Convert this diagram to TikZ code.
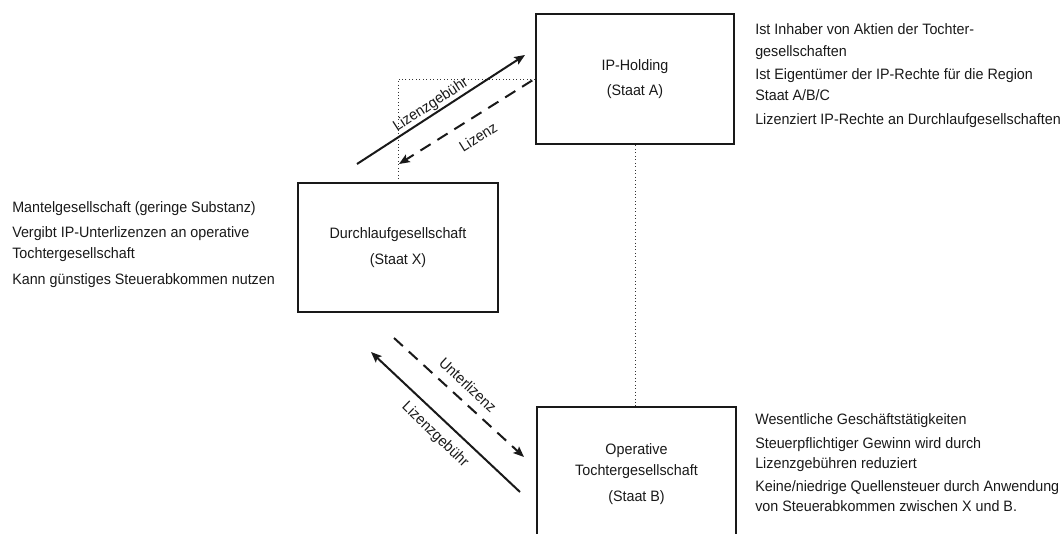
\documentclass[tikz,border=0pt]{standalone}
\usepackage{fontspec}
\setmainfont{Liberation Sans}[FakeStretch=0.95]
\usetikzlibrary{arrows.meta}
\newcommand\mainsize{\fontsize{11.3pt}{15.75pt}\selectfont}
\begin{document}
\begin{tikzpicture}[x=0.75pt,y=-0.75pt,
  box/.style={draw=black!90, line width=2.2pt, align=center, inner sep=0pt, font=\mainsize, text=black!90},
  side/.style={anchor=base west, inner sep=0pt, font=\mainsize, text=black!90},
  lbl/.style={inner sep=0pt, font=\mainsize, text=black!90},
  flow/.style={line width=1.5pt, draw=black!90, -{Stealth[length=8pt,width=6.5pt,inset=1.5pt]}},
  lic/.style={flow, dash pattern=on 9pt off 6pt},
  link/.style={draw=black!80, dotted, line width=0.6pt}]
\useasboundingbox (0,0) rectangle (1064,534);
\clip (0,0) rectangle (1064,534);

% boxes
\node[box, minimum width=148.5pt, minimum height=97.5pt] (A) at (635,79)
  {IP-Holding\\[3.5pt](Staat A)};
\node[box, minimum width=150pt, minimum height=96.75pt] (X) at (398,247.5)
  {Durchlaufgesellschaft\\[3.5pt](Staat X)};
\node[box, minimum width=149.25pt, minimum height=100.5pt] (B) at (636.5,474)
  {Operative\\Tochtergesellschaft\\[3.5pt](Staat B)};

% dotted links
\draw[link] (A.west) -| (X.north);
\draw[link] (A.south) -- (A.south |- B.north);

% free ends of flows
\coordinate (u1) at (357,164);
\coordinate (u2) at (525,55);
\coordinate (d2) at (399,164);
\coordinate (l1) at (394,338);
\coordinate (l2) at (524,457);
\coordinate (m1) at (520,492);
\coordinate (m2) at (371,352);

\draw[flow] (u1) -- (u2);
\draw[lic, shorten <=2pt] (A.west) -- (d2);
\draw[lic] (l1) -- (l2);
\draw[flow] (m1) -- (m2);

% flow labels
\node[lbl, rotate=33] (t1) at (431,105) {Lizenzgebühr};
\node[lbl, rotate=32] (t2) at (478,137) {Lizenz};
\node[lbl, rotate=-43] (t3) at (468,385) {Unterlizenz};
\node[lbl, rotate=-44] (t4) at (435,435) {Lizenzgebühr};

% left notes
\node[side] (xa) at (12,213) {Mantelgesellschaft (geringe Substanz)};
\node[side] (xb) at (12,238) {Vergibt IP-Unterlizenzen an operative};
\node[side] (xc) at (12,259) {Tochtergesellschaft};
\node[side] (xd) at (12,285) {Kann günstiges Steuerabkommen nutzen};

% right notes, IP-Holding
\node[side] (aa) at (755,35) {Ist Inhaber von Aktien der Tochter-};
\node[side] (ab) at (755,57) {gesellschaften};
\node[side] (ac) at (755,80) {Ist Eigentümer der IP-Rechte für die Region};
\node[side] (ad) at (755,101) {Staat A/B/C};
\node[side] (ae) at (755,125) {Lizenziert IP-Rechte an Durchlaufgesellschaften};

% right notes, operative
\node[side] (ba) at (755,425) {Wesentliche Geschäftstätigkeiten};
\node[side] (bb) at (755,449) {Steuerpflichtiger Gewinn wird durch};
\node[side] (bc) at (755,469) {Lizenzgebühren reduziert};
\node[side] (bd) at (755,492) {Keine/niedrige Quellensteuer durch Anwendung};
\node[side] (be) at (755,512) {von Steuerabkommen zwischen X und B.};
\end{tikzpicture}
\end{document}
